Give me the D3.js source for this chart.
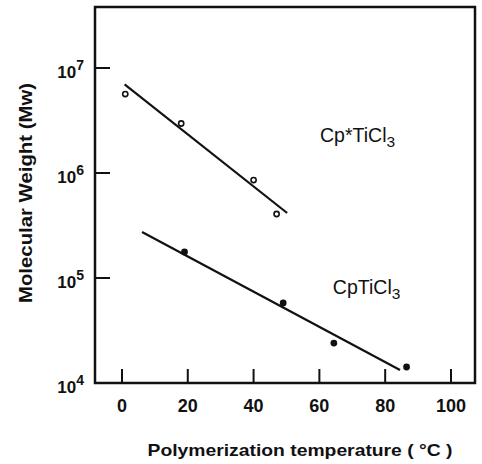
<!DOCTYPE html>
<html><head><meta charset="utf-8">
<script src="https://cdn.jsdelivr.net/npm/d3@7"></script>
<style>body{margin:0;background:#fff}svg{display:block}text{font-family:"Liberation Sans",Arial,sans-serif;fill:#111}</style>
</head><body>
<svg id="c" width="482" height="464"></svg>
<script>
// Data
const xTicks = [0, 20, 40, 60, 80, 100];
const yTickExps = [4, 5, 6, 7];
const cpStarTemp = [1, 18, 40, 47];
const cpStarMw = [5.65e6, 2.96e6, 8.57e5, 4.07e5];
const cpStarFitTemp = [0.8, 50.2];
const cpStarFitMw = [6.97e6, 4.16e5];
const cpTemp = [19, 49, 64.4, 86.5];
const cpMw = [1.77e5, 5.78e4, 2.40e4, 1.42e4];
const cpFitTemp = [6.1, 84.5];
const cpFitMw = [2.74e5, 1.33e4];

const svg = d3.select("#c");
const L = 95, R = 475, T = 7, B = 383;
const x = d3.scaleLinear().domain([-8.2, 107.3]).range([L, R]);
const y = d3.scaleLog().domain([1e4, Math.pow(10, 7.581)]).range([B, T]);

// frame
svg.append("rect").attr("x", L).attr("y", T).attr("width", R - L).attr("height", B - T)
  .attr("fill", "none").attr("stroke", "#111").attr("stroke-width", 2.5);

// x ticks (inner)
svg.selectAll(".xt").data(xTicks).enter().append("line")
  .attr("x1", d => x(d)).attr("x2", d => x(d)).attr("y1", B).attr("y2", B - 14)
  .attr("stroke", "#111").attr("stroke-width", 2);
svg.selectAll(".xl").data(xTicks).enter().append("text")
  .attr("x", d => x(d)).attr("y", 412).attr("text-anchor", "middle")
  .attr("font-size", 18).attr("font-weight", "bold").text(d => d);

// y ticks (inner)
svg.selectAll(".yt").data(yTickExps.filter(e => e > 4)).enter().append("line")
  .attr("x1", L).attr("x2", L + 15).attr("y1", d => y(Math.pow(10, d))).attr("y2", d => y(Math.pow(10, d)))
  .attr("stroke", "#111").attr("stroke-width", 2);
const yl = svg.selectAll(".yl").data(yTickExps).enter().append("text")
  .attr("x", 84).attr("y", d => y(Math.pow(10, d)) + 10).attr("text-anchor", "end")
  .attr("font-size", 17).attr("font-weight", "bold");
yl.append("tspan").text("10");
yl.append("tspan").attr("dy", -8).attr("font-size", 14).text(d => d);

// fit lines
const line = d3.line().x(d => x(d[0])).y(d => y(d[1]));
svg.append("path").datum(d3.zip(cpStarFitTemp, cpStarFitMw)).attr("d", line)
  .attr("fill", "none").attr("stroke", "#111").attr("stroke-width", 2.2);
svg.append("path").datum(d3.zip(cpFitTemp, cpFitMw)).attr("d", line)
  .attr("fill", "none").attr("stroke", "#111").attr("stroke-width", 2.2);

// points
svg.selectAll(".os").data(d3.zip(cpStarTemp, cpStarMw)).enter().append("circle")
  .attr("cx", d => x(d[0])).attr("cy", d => y(d[1])).attr("r", 2.6)
  .attr("fill", "#fff").attr("stroke", "#111").attr("stroke-width", 1.6);
svg.selectAll(".fs").data(d3.zip(cpTemp, cpMw)).enter().append("circle")
  .attr("cx", d => x(d[0])).attr("cy", d => y(d[1])).attr("r", 3.4)
  .attr("fill", "#111");

// series labels
function label(tx, ty, main, sub) {
  const t = svg.append("text").attr("x", tx).attr("y", ty).attr("font-size", 19.5);
  t.append("tspan").text(main);
  t.append("tspan").attr("dy", 5).attr("font-size", 15.5).text(sub);
}
label(x(60.2), y(1.96e6), "Cp*TiCl", "3");
label(x(64.1), y(7.1e4), "CpTiCl", "3");

// axis titles
svg.append("text").attr("x", 300).attr("y", 456).attr("text-anchor", "middle")
  .attr("font-size", 17).attr("font-weight", "bold").attr("textLength", 305).attr("lengthAdjust", "spacingAndGlyphs")
  .text("Polymerization temperature ( °C )");
svg.append("text").attr("transform", "translate(32,193) rotate(-90)").attr("text-anchor", "middle")
  .attr("font-size", 19).attr("font-weight", "bold").attr("textLength", 220).attr("lengthAdjust", "spacingAndGlyphs")
  .text("Molecular Weight (Mw)");
</script>
</body></html>
